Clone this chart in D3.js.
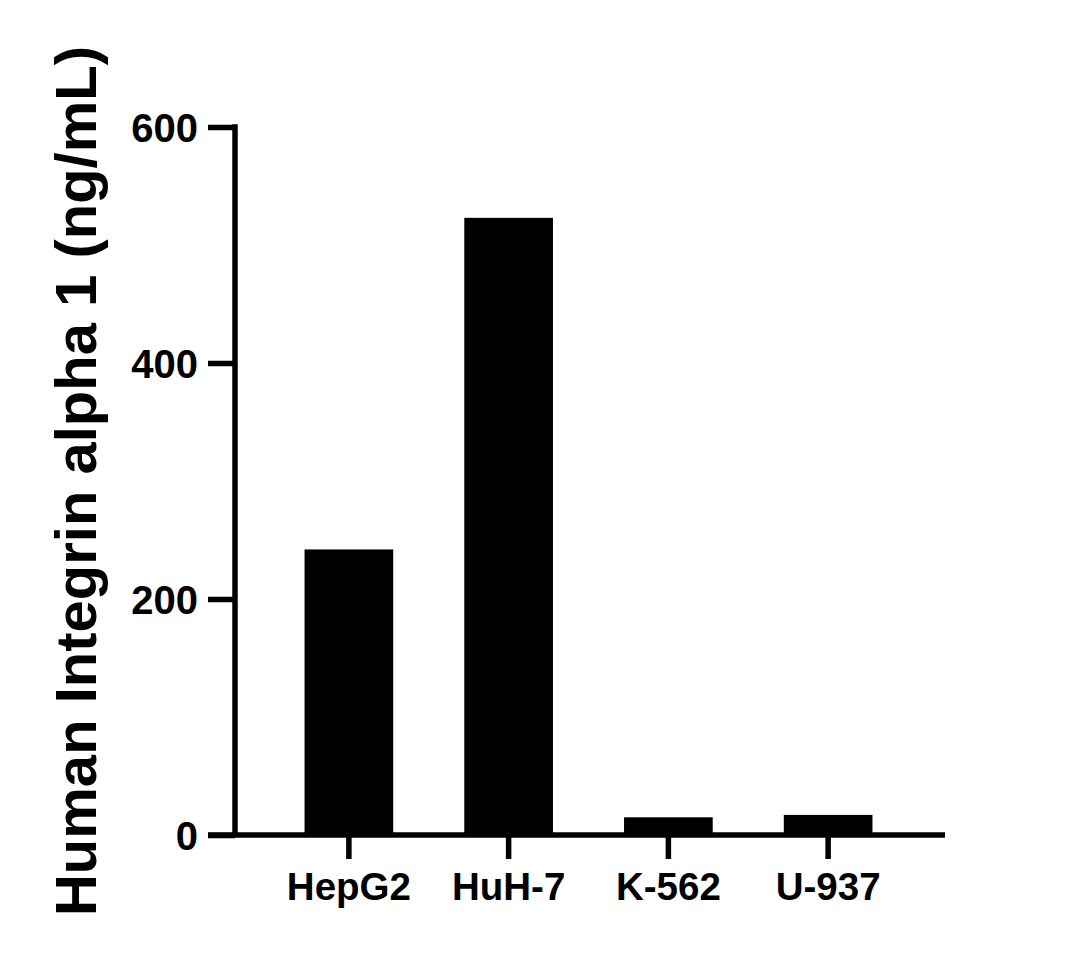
<!DOCTYPE html>
<html>
<head>
<meta charset="utf-8">
<script src="https://cdn.jsdelivr.net/npm/d3@7"></script>
<style>
  body { margin: 0; background: #fff; }
  svg text { font-family: "Liberation Sans", Arial, sans-serif; font-weight: bold; fill: #000; }
</style>
</head>
<body>
<svg></svg>
<script>
var cellLines = ["HepG2", "HuH-7", "K-562", "U-937"];
var concentrations = [242, 523, 15, 17];
var yTicks = [0, 200, 400, 600];
var yTitle = "Human Integrin alpha 1 (ng/mL)";

var width = 1077;
var height = 962;

var svg = d3.select("svg")
            .attr("width", width)
            .attr("height", height);

var xAxisLeft = 235;
var xAxisRight = 945;

var xScale = d3.scaleBand()
               .domain(cellLines)
               .range([269, 908])
               .paddingInner(0.445)
               .paddingOuter(0.2225);

var yScale = d3.scaleLinear()
               .domain([0, 600])
               .range([835, 127]);

// bars
svg.selectAll("rect.bar")
   .data(cellLines)
   .enter()
   .append("rect")
   .attr("class", "bar")
   .attr("x", function(d){ return xScale(d); })
   .attr("y", function(d, i){ return yScale(concentrations[i]); })
   .attr("width", xScale.bandwidth())
   .attr("height", function(d, i){ return yScale(0) - yScale(concentrations[i]); })
   .attr("fill", "#000");

// y axis
var yAxis = d3.axisLeft(yScale)
              .tickValues(yTicks)
              .tickSize(27)
              .tickPadding(10)
              .tickSizeOuter(0);
var gy = svg.append("g")
            .attr("transform", "translate(" + xAxisLeft + ",0)")
            .call(yAxis);
gy.select(".domain")
  .attr("stroke", "#000")
  .attr("stroke-width", 5.5)
  .attr("d", "M0," + (yScale(600) - 2.75) + "V" + yScale(0));
gy.selectAll(".tick line").attr("stroke", "#000").attr("stroke-width", 5.5);
gy.selectAll(".tick text")
  .attr("font-size", 40)
  .attr("dy", "0.36em");

// x axis
var xAxis = d3.axisBottom(xScale)
              .tickSize(24)
              .tickPadding(14)
              .tickSizeOuter(0);
var gx = svg.append("g")
            .attr("transform", "translate(0," + yScale(0) + ")")
            .call(xAxis);
gx.select(".domain")
  .attr("stroke", "#000")
  .attr("stroke-width", 5.5)
  .attr("d", "M" + (xAxisLeft - 27) + ",0H" + xAxisRight);
gx.selectAll(".tick line").attr("stroke", "#000").attr("stroke-width", 5.5);
gx.selectAll(".tick text")
  .attr("font-size", 38.5)
  .attr("dy", "0.71em");

// y title
svg.append("text")
   .attr("transform", "translate(96,481) rotate(-90)")
   .attr("text-anchor", "middle")
   .attr("font-size", 58)
   .text(yTitle);
</script>
</body>
</html>
